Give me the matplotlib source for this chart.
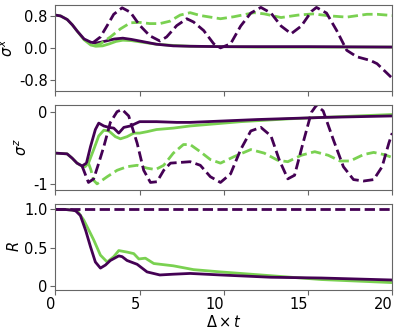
import matplotlib
matplotlib.use('Agg')
import matplotlib.pyplot as plt

plt.rcParams['axes.unicode_minus'] = False
plt.rcParams['font.size'] = 10.5

purple = '#440154'
green = '#7ad151'

# ---- sigma^x ----
sx_p_t = [0, 0.3, 0.7, 1.0, 1.3, 1.7, 2.1, 2.4, 2.7, 3.1, 3.5, 4.0, 4.5, 5.0, 5.5, 6.0, 7.0, 8.0, 10, 12, 15, 20]
sx_p = [0.81, 0.79, 0.70, 0.57, 0.41, 0.22, 0.14, 0.12, 0.14, 0.18, 0.22, 0.24, 0.21, 0.17, 0.13, 0.09, 0.05, 0.04, 0.03, 0.03, 0.03, 0.02]
sx_g_t = [0, 0.3, 0.7, 1.0, 1.3, 1.7, 2.1, 2.4, 2.8, 3.2, 3.6, 4.0, 4.5, 5.0, 5.5, 6.0, 7.0, 8.0, 10, 12, 15, 20]
sx_g = [0.81, 0.79, 0.70, 0.57, 0.41, 0.20, 0.07, 0.04, 0.05, 0.10, 0.16, 0.19, 0.18, 0.15, 0.12, 0.09, 0.06, 0.04, 0.03, 0.02, 0.02, 0.02]
sx_pd_t = [2.2, 2.67, 3.07, 3.46, 3.96, 4.45, 5.0, 5.6, 6.2, 6.6, 7.2, 7.8, 8.2, 8.8, 9.4, 9.8, 10.4, 11.0, 11.6, 12.2,
           12.8, 13.4, 14.0, 14.6, 15.2, 15.5, 16.1, 16.7, 17.3, 17.9, 18.7, 19.1, 19.5, 19.9, 20]
sx_pd = [0.12, 0.27, 0.55, 0.83, 0.99, 0.88, 0.56, 0.30, 0.17, 0.27, 0.55, 0.72, 0.64, 0.43, 0.10, 0.0, 0.10, 0.54, 0.86, 1.0,
         0.86, 0.54, 0.35, 0.54, 0.90, 1.0, 0.86, 0.43, -0.06, -0.22, -0.31, -0.39, -0.55, -0.71, -0.75]
sx_gd_t = [2.3, 2.67, 3.26, 3.86, 4.45, 5.0, 5.6, 6.2, 6.8, 7.4, 8.0, 8.6, 9.8, 10.6, 11.8, 12.4, 13.4, 14.4, 15.3, 16.3, 17.3, 18.5, 19.1, 20]
sx_gd = [0.05, 0.10, 0.27, 0.47, 0.62, 0.63, 0.60, 0.60, 0.66, 0.81, 0.87, 0.80, 0.72, 0.77, 0.87, 0.84, 0.75, 0.81, 0.84, 0.79, 0.76, 0.83, 0.83, 0.80]

# ---- sigma^z ----
sz_p_t = [0, 0.69, 0.99, 1.28, 1.58, 1.84, 2.08, 2.37, 2.57, 2.87, 3.17, 3.46, 3.76, 4.06, 4.45, 5.0, 6.0, 7.2, 8.0, 12, 16, 20]
sz_p = [-0.57, -0.58, -0.64, -0.71, -0.75, -0.71, -0.48, -0.24, -0.15, -0.19, -0.21, -0.22, -0.29, -0.21, -0.19, -0.13, -0.13, -0.14, -0.14, -0.10, -0.07, -0.05]
sz_g_t = [0, 0.69, 0.99, 1.28, 1.58, 1.76, 1.96, 2.27, 2.57, 2.87, 3.17, 3.56, 3.86, 4.25, 4.65, 5.0, 5.44, 6.0, 7.0, 8.0, 11, 13.9, 16.9, 20]
sz_g = [-0.57, -0.58, -0.64, -0.71, -0.75, -0.76, -0.71, -0.52, -0.33, -0.25, -0.26, -0.34, -0.37, -0.34, -0.29, -0.29, -0.27, -0.24, -0.22, -0.19, -0.13, -0.09, -0.06, -0.03]
sz_pd_t = [1.58, 1.76, 1.96, 2.27, 2.57, 2.87, 3.26, 3.66, 3.96, 4.35, 4.85, 5.24, 5.64, 6.03, 6.43, 6.83, 7.42, 8.0, 8.6, 9.2,
           9.8, 10.4, 11.0, 11.6, 12.2, 12.8, 13.3, 13.8, 14.2, 14.7, 15.2, 15.5, 15.9, 16.5, 17.1, 17.7, 18.3, 18.9, 19.4, 19.8, 20]
sz_pd = [-0.75, -0.86, -0.98, -0.93, -0.71, -0.48, -0.14, 0.01, 0.04, -0.05, -0.43, -0.81, -0.98, -0.97, -0.81, -0.71, -0.70, -0.69, -0.74, -0.90,
         -0.98, -0.86, -0.52, -0.26, -0.21, -0.33, -0.67, -0.93, -0.88, -0.43, 0.0, 0.10, 0.02, -0.38, -0.76, -0.94, -0.96, -0.94, -0.76, -0.43, -0.29]
sz_gd_t = [1.96, 2.1, 2.27, 2.47, 3.07, 3.66, 4.25, 4.85, 5.44, 5.94, 6.43, 7.0, 7.6, 8.0, 8.6, 9.2, 9.8, 10.6, 11.6, 12.4,
           13.2, 13.8, 14.6, 15.4, 16.2, 16.9, 17.5, 18.3, 18.9, 19.5, 20]
sz_gd = [-0.71, -0.80, -0.95, -1.0, -0.90, -0.81, -0.76, -0.74, -0.78, -0.80, -0.74, -0.57, -0.45, -0.45, -0.55, -0.66, -0.71, -0.62, -0.52, -0.57,
         -0.67, -0.69, -0.60, -0.55, -0.60, -0.68, -0.68, -0.59, -0.56, -0.59, -0.63]

# ---- R ----
r_p_t = [0, 0.5, 1.0, 1.2, 1.48, 1.8, 2.08, 2.37, 2.67, 2.97, 3.26, 3.76, 3.96, 4.25, 4.85, 5.44, 6.2, 7.0, 8.0, 9.8, 12.8, 15.8, 20]
r_p = [1.0, 1.0, 0.99, 0.98, 0.92, 0.72, 0.51, 0.31, 0.23, 0.27, 0.33, 0.39, 0.38, 0.33, 0.28, 0.18, 0.14, 0.15, 0.16, 0.14, 0.11, 0.10, 0.074]
r_g_t = [0, 0.5, 1.0, 1.3, 1.68, 2.0, 2.27, 2.67, 3.07, 3.46, 3.76, 4.25, 4.65, 4.95, 5.34, 5.84, 7.0, 8.2, 9.8, 12.8, 15.8, 20]
r_g = [1.0, 1.0, 0.99, 0.98, 0.86, 0.72, 0.60, 0.40, 0.31, 0.38, 0.46, 0.44, 0.42, 0.35, 0.36, 0.29, 0.26, 0.21, 0.18, 0.13, 0.08, 0.04]
r_pd_t = [0, 20]
r_pd = [1.0, 1.0]

fig = plt.figure(figsize=(3.99, 3.32), dpi=100)
gs = fig.add_gridspec(3, 1, left=0.139, right=0.983, top=0.985, bottom=0.127, hspace=0.16)
ax1 = fig.add_subplot(gs[0])
ax2 = fig.add_subplot(gs[1])
ax3 = fig.add_subplot(gs[2])

lw = 2.0
ax1.plot(sx_g_t, sx_g, color=green, lw=lw)
ax1.plot(sx_p_t, sx_p, color=purple, lw=lw)
ax1.plot(sx_gd_t, sx_gd, color=green, lw=lw, ls='--')
ax1.plot(sx_pd_t, sx_pd, color=purple, lw=lw, ls='--')

ax2.plot(sz_g_t, sz_g, color=green, lw=lw)
ax2.plot(sz_p_t, sz_p, color=purple, lw=lw)
ax2.plot(sz_gd_t, sz_gd, color=green, lw=lw, ls='--')
ax2.plot(sz_pd_t, sz_pd, color=purple, lw=lw, ls='--')

ax3.plot(r_g_t, r_g, color=green, lw=lw)
ax3.plot(r_p_t, r_p, color=purple, lw=lw)
ax3.plot(r_pd_t, r_pd, color=purple, lw=lw, ls='--')

ax1.set_ylim(-1.06, 1.06)
ax1.set_yticks([0.8, 0.0, -0.8])
ax1.set_yticklabels(['0.8', '0.0', '-0.8'])
ax1.set_ylabel(r'$\sigma^x$', labelpad=2)

ax2.set_ylim(-1.09, 0.11)
ax2.set_yticks([0, -1])
ax2.set_yticklabels(['0', '-1'])
ax2.set_ylabel(r'$\sigma^z$', labelpad=2)

ax3.set_ylim(-0.055, 1.07)
ax3.set_yticks([0, 0.5, 1.0])
ax3.set_yticklabels(['0', '0.5', '1.0'])
ax3.set_ylabel(r'$R$', labelpad=2)
ax3.set_xlabel(r'$\Delta\times t$', labelpad=1)

for ax in (ax1, ax2, ax3):
    ax.set_xlim(0, 20)
    ax.set_xticks([0, 5, 10, 15, 20])
    for s in ax.spines.values():
        s.set_color('#666666')
    ax.tick_params(color='#666666', pad=2)
ax1.set_xticklabels([])
ax2.set_xticklabels([])
for lab in ax3.get_xticklabels():
    lab.set_horizontalalignment('right')

fig.savefig('out.png', dpi=100)
